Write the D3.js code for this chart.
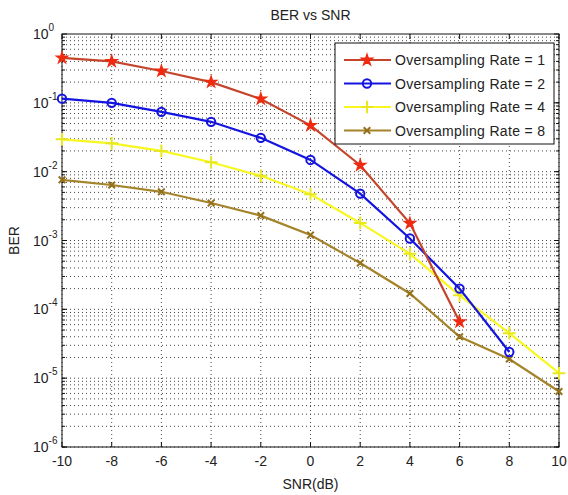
<!DOCTYPE html>
<html>
<head>
<meta charset="utf-8">
<script src="https://cdn.jsdelivr.net/npm/d3@7"></script>
<style>
  body { margin: 0; background: #fff; }
  text { font-family: "Liberation Sans", Arial, sans-serif; fill: #222; }
</style>
</head>
<body>
<div id="chart"></div>
<script>
// data
var snr = [-10, -8, -6, -4, -2, 0, 2, 4, 6, 8, 10];
var rate1 = [0.45, 0.40, 0.29, 0.20, 0.114, 0.047, 0.0124, 0.00178, 6.6e-5];
var rate2 = [0.115, 0.10, 0.074, 0.053, 0.031, 0.0148, 0.0048, 0.00107, 2.0e-4, 2.4e-5];
var rate4 = [0.0295, 0.0258, 0.020, 0.0137, 0.0087, 0.0047, 0.0018, 6.4e-4, 1.6e-4, 4.5e-5, 1.18e-5];
var rate8 = [0.0076, 0.0064, 0.0051, 0.0035, 0.0023, 0.0012, 4.7e-4, 1.7e-4, 4.0e-5, 1.9e-5, 6.4e-6];
var seriesNames = ["Oversampling Rate = 1", "Oversampling Rate = 2", "Oversampling Rate = 4", "Oversampling Rate = 8"];
var xTicks = [-10, -8, -6, -4, -2, 0, 2, 4, 6, 8, 10];
var yExps = [0, -1, -2, -3, -4, -5, -6];

var width = 568, height = 495;
var margin = { top: 34, right: 9, bottom: 48, left: 62 };

var svg = d3.select("#chart").append("svg")
  .attr("width", width)
  .attr("height", height);

var x = d3.scaleLinear().domain([-10, 10]).range([margin.left, width - margin.right]);
var y = d3.scaleLog().domain([1e-6, 1]).range([height - margin.bottom, margin.top]);

// grid: major dotted, minor dotted (log decades)
var grid = svg.append("g");
xTicks.forEach(function(t) {
  grid.append("line")
    .attr("x1", x(t)).attr("x2", x(t))
    .attr("y1", y(1e-6)).attr("y2", y(1))
    .attr("stroke", "#444").attr("stroke-width", 1)
    .attr("stroke-dasharray", "1,3");
});
var minor = [];
for (var e = -6; e < 0; e++) {
  for (var m = 1; m <= 9; m++) minor.push(m * Math.pow(10, e));
}
minor.forEach(function(v) {
  grid.append("line")
    .attr("x1", x(-10)).attr("x2", x(10))
    .attr("y1", y(v)).attr("y2", y(v))
    .attr("stroke", "#444").attr("stroke-width", 1)
    .attr("stroke-dasharray", "1,3");
});

// box
svg.append("rect")
  .attr("x", x(-10)).attr("y", y(1))
  .attr("width", x(10) - x(-10)).attr("height", y(1e-6) - y(1))
  .attr("fill", "none").attr("stroke", "#111").attr("stroke-width", 1);

// x ticks + labels
var xg = svg.append("g");
xTicks.forEach(function(t) {
  xg.append("line").attr("x1", x(t)).attr("x2", x(t))
    .attr("y1", y(1e-6)).attr("y2", y(1e-6) - 5).attr("stroke", "#111");
  xg.append("line").attr("x1", x(t)).attr("x2", x(t))
    .attr("y1", y(1)).attr("y2", y(1) + 5).attr("stroke", "#111");
  xg.append("text").attr("x", x(t)).attr("y", y(1e-6) + 19)
    .attr("text-anchor", "middle").attr("font-size", 14).text(t);
});

// y ticks + labels (10^n)
var yg = svg.append("g");
yExps.forEach(function(p) {
  var v = Math.pow(10, p);
  yg.append("line").attr("x1", x(-10)).attr("x2", x(-10) + 5)
    .attr("y1", y(v)).attr("y2", y(v)).attr("stroke", "#111");
  yg.append("line").attr("x1", x(10)).attr("x2", x(10) - 5)
    .attr("y1", y(v)).attr("y2", y(v)).attr("stroke", "#111");
  var t = yg.append("text").attr("x", x(-10) - 29).attr("y", y(v) + 5)
    .attr("font-size", 14);
  t.append("tspan").text("10");
  t.append("tspan").attr("dy", -8).attr("font-size", 10).text(p);
});
// minor ticks
minor.forEach(function(v) {
  yg.append("line").attr("x1", x(-10)).attr("x2", x(-10) + 3)
    .attr("y1", y(v)).attr("y2", y(v)).attr("stroke", "#111");
  yg.append("line").attr("x1", x(10)).attr("x2", x(10) - 3)
    .attr("y1", y(v)).attr("y2", y(v)).attr("stroke", "#111");
});

// titles
svg.append("text").attr("x", (x(-10) + x(10)) / 2).attr("y", 20)
  .attr("text-anchor", "middle").attr("font-size", 14).text("BER vs SNR");
svg.append("text").attr("x", (x(-10) + x(10)) / 2).attr("y", 489)
  .attr("text-anchor", "middle").attr("font-size", 14).text("SNR(dB)");
svg.append("text").attr("transform", "translate(19," + ((y(1) + y(1e-6)) / 2) + ") rotate(-90)")
  .attr("text-anchor", "middle").attr("font-size", 14).text("BER");

// series
var series = [
  { name: seriesNames[0], values: rate1, line: "#c4452c", mark: "#ee2a10", symbol: d3.symbolStar, size: 26, fill: true },
  { name: seriesNames[1], values: rate2, line: "#1414e0", mark: "#1414e0", symbol: d3.symbolCircle, size: 55, fill: false },
  { name: seriesNames[2], values: rate4, line: "#f8f820", mark: "#e8e820", symbol: d3.symbolPlus, size: 55, fill: false },
  { name: seriesNames[3], values: rate8, line: "#a4842a", mark: "#94701a", symbol: d3.symbolX, size: 30, fill: false }
];

var line = d3.line()
  .x(function(d, i) { return x(snr[i]); })
  .y(function(d) { return y(d); });

function drawMarker(g, s, cx, cy) {
  g.append("path")
    .attr("d", d3.symbol().type(s.symbol).size(s.size)())
    .attr("transform", "translate(" + cx + "," + cy + ")")
    .attr("fill", s.fill ? s.mark : "none")
    .attr("stroke", s.mark)
    .attr("stroke-width", 2);
}

// draw lower-priority series first so red/blue sit on top like the original
[3, 2, 1, 0].forEach(function(k) {
  var s = series[k];
  var g = svg.append("g");
  g.append("path").datum(s.values)
    .attr("d", line)
    .attr("fill", "none")
    .attr("stroke", s.line)
    .attr("stroke-width", 2.2);
  s.values.forEach(function(v, i) { drawMarker(g, s, x(snr[i]), y(v)); });
});

// legend
var lx = 335, ly = 43, lw = 219, lh = 101;
var leg = svg.append("g");
leg.append("rect").attr("x", lx).attr("y", ly).attr("width", lw).attr("height", lh)
  .attr("fill", "#fff").attr("stroke", "#111").attr("stroke-width", 1);
series.forEach(function(s, i) {
  var yy = ly + 17 + i * 23.5;
  leg.append("line").attr("x1", lx + 9).attr("x2", lx + 56)
    .attr("y1", yy).attr("y2", yy)
    .attr("stroke", s.line).attr("stroke-width", 2.2);
  drawMarker(leg, s, lx + 32, yy);
  leg.append("text").attr("x", lx + 60).attr("y", yy + 5)
    .attr("font-size", 14).attr("textLength", 150).text(s.name);
});
</script>
</body>
</html>
